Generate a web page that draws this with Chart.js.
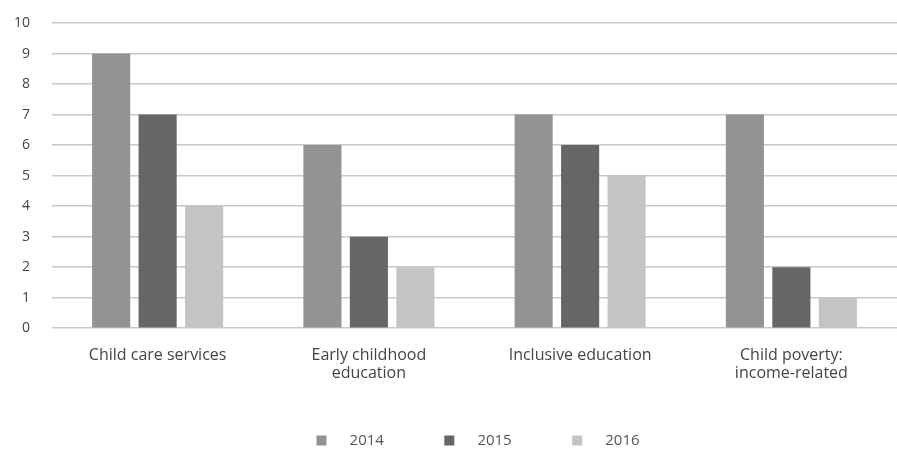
<!DOCTYPE html>
<html>
<head>
<meta charset="utf-8">
<script src="https://cdn.jsdelivr.net/npm/chart.js@4"></script>
<style>
  html, body { margin: 0; padding: 0; background: #fff; }
  #wrap { width: 897px; height: 450px; }
</style>
</head>
<body>
<div id="wrap"><canvas id="barChart" width="897" height="450"></canvas></div>
<script>
const categories = [
    'Child care services',
    ['Early childhood', 'education'],
    'Inclusive education',
    ['Child poverty:', 'income-related']
];
const years = ['2014', '2015', '2016'];
const values2014 = [9, 6, 7, 7];
const values2015 = [7, 3, 6, 2];
const values2016 = [4, 2, 5, 1];
const yTicks = [0, 1, 2, 3, 4, 5, 6, 7, 8, 9, 10];

const colors = ['#939393', '#666666', '#c4c4c4'];
const font = 'Open Sans';

// legend in the reference is centred under the plot, not the canvas
const legendShift = {
    id: 'legendShift',
    afterLayout(chart) {
        chart.legend.left += 58;
    }
};

const ctx = document.getElementById('barChart').getContext('2d');
new Chart(ctx, {
    type: 'bar',
    data: {
        labels: categories,
        datasets: [values2014, values2015, values2016].map((vals, i) => ({
            label: years[i],
            data: vals,
            backgroundColor: colors[i],
            borderWidth: 0,
            categoryPercentage: 0.66,
            barPercentage: 0.82
        }))
    },
    options: {
        responsive: false,
        animation: false,
        // the plot runs a little past the right edge in the reference
        layout: { padding: { left: -8, right: -9, top: 23, bottom: -8 } },
        scales: {
            x: {
                grid: { display: false },
                border: { display: false },
                afterFit: axis => { axis.height += 38; },
                ticks: {
                    color: '#444',
                    font: { family: font, size: 16, lineHeight: 1.15 },
                    padding: 10,
                    maxRotation: 0
                }
            },
            y: {
                min: 0,
                max: 10,
                afterBuildTicks: axis => { axis.ticks = yTicks.map(v => ({ value: v })); },
                afterFit: axis => { axis.paddingTop = 0; },
                grid: { color: '#c8c8c8', lineWidth: 1.5, drawTicks: false },
                border: { display: false },
                ticks: {
                    color: '#444',
                    font: { family: font, size: 14 },
                    padding: 22
                }
            }
        },
        plugins: {
            legend: {
                position: 'bottom',
                labels: {
                    boxWidth: 10,
                    boxHeight: 10,
                    padding: 2,
                    color: '#555',
                    font: { family: font, size: 15 },
                    generateLabels: chart => {
                        const items = Chart.defaults.plugins.legend.labels.generateLabels(chart);
                        // pad the text so items sit as far apart as in the reference
                        items.forEach((item, i) => {
                            item.text = '\u00a0\u00a0\u00a0\u00a0' + item.text + (i < items.length - 1 ? '\u00a0'.repeat(15) : '');
                        });
                        return items;
                    }
                }
            },
            tooltip: { enabled: false }
        }
    },
    plugins: [legendShift]
});
</script>
</body>
</html>
